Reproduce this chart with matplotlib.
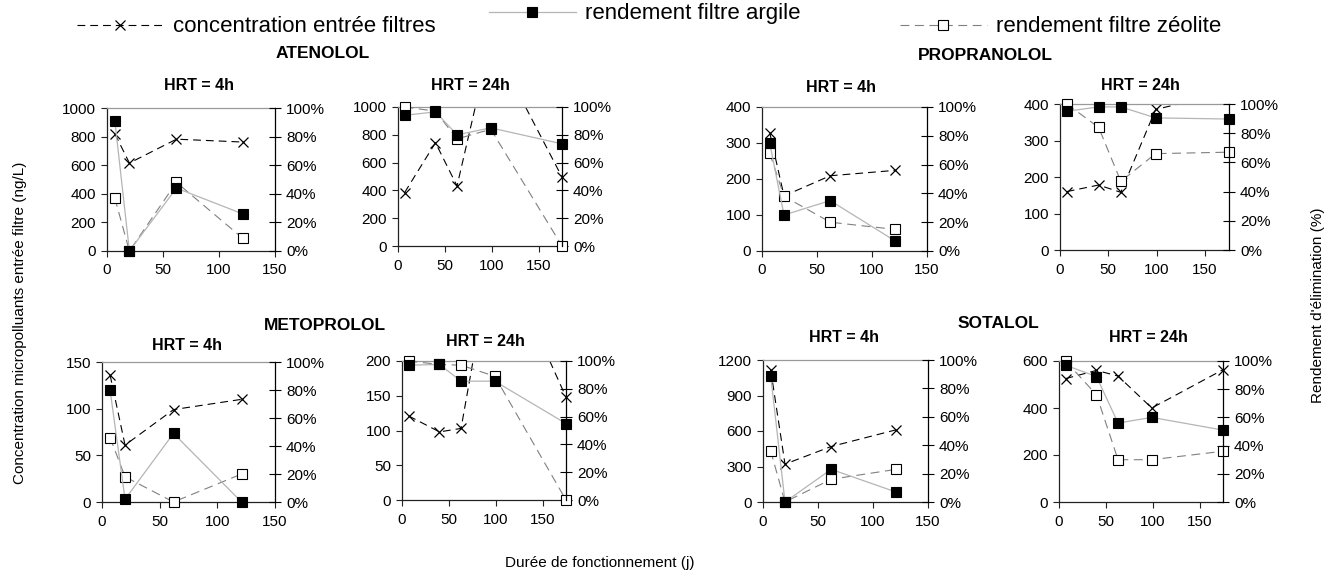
import matplotlib
matplotlib.use('Agg')
import matplotlib.pyplot as plt
from matplotlib.ticker import PercentFormatter, MultipleLocator
import numpy as np

plt.rcParams['font.family'] = ['Liberation Sans', 'DejaVu Sans']

# ---------------- data ----------------
t_4h = [7, 20, 62, 121]
t_24h = [7, 40, 63, 99, 175]

aten_4h_conc = [820, 615, 782, 762]
aten_4h_arg = [0.91, 0.00, 0.44, 0.26]
aten_4h_zeo = [0.37, 0.00, 0.48, 0.09]
aten_24h_conc = [384, 743, 432, 1480, 496]
aten_24h_arg = [0.94, 0.965, 0.80, 0.85, 0.735]
aten_24h_zeo = [1.00, 0.97, 0.77, 0.84, 0.00]

prop_4h_conc = [329, 153, 209, 224]
prop_4h_arg = [0.75, 0.25, 0.35, 0.07]
prop_4h_zeo = [0.68, 0.38, 0.20, 0.15]
prop_24h_conc = [160, 178, 158, 385, 433]
prop_24h_arg = [0.95, 0.98, 0.98, 0.905, 0.897]
prop_24h_zeo = [1.00, 0.84, 0.47, 0.66, 0.67]

meto_4h_conc = [136, 61, 99, 110]
meto_4h_arg = [0.80, 0.02, 0.49, 0.00]
meto_4h_zeo = [0.46, 0.18, 0.00, 0.20]
meto_24h_conc = [121, 98, 103, 376, 148]
meto_24h_arg = [0.97, 0.975, 0.855, 0.855, 0.55]
meto_24h_zeo = [1.00, 0.975, 0.97, 0.89, 0.00]

sota_4h_conc = [1116, 320, 469, 610]
sota_4h_arg = [0.89, 0.00, 0.23, 0.07]
sota_4h_zeo = [0.36, 0.00, 0.16, 0.23]
sota_24h_conc = [525, 560, 536, 400, 563]
sota_24h_arg = [0.97, 0.89, 0.56, 0.60, 0.51]
sota_24h_zeo = [1.00, 0.76, 0.30, 0.30, 0.36]

legend_labels = ['concentration entrée filtres', 'rendement filtre argile',
                 'rendement filtre zéolite']
compounds = ['ATENOLOL', 'PROPRANOLOL', 'METOPROLOL', 'SOTALOL']

# ---------------- layout ----------------
W, H = 1333, 579
fig = plt.figure(figsize=(W / 100, H / 100), dpi=100)


def px_rect(L, T, R, B):
    return [L / W, 1 - B / H, (R - L) / W, (B - T) / H]


def ftext(x, y, s, **kw):
    return fig.text(x / W, 1 - y / H, s, **kw)


TICK_FS = 11


def draw(rect, t, conc, arg, zeo, ymax, ystep, xmax, title, title_xy):
    ax = fig.add_axes(rect)
    ax2 = ax.twinx()
    ax.set_xlim(0, xmax)
    ax.set_ylim(0, ymax)
    ax2.set_ylim(0, 1)

    t = np.asarray(t, float)
    conc = np.asarray(conc, float)
    arg = np.asarray(arg, float)
    zeo = np.asarray(zeo, float)

    # concentration (left axis)
    lc, = ax.plot(t, conc, color='black', lw=0.8, ls=(0, (7, 4.5)))
    inr = conc <= ymax
    mc, = ax.plot(t[inr], conc[inr], ls='none', marker='x', ms=7, mew=0.9,
                  color='black', clip_on=False)

    # rendements (right axis)
    lz, = ax2.plot(t, zeo, color='#808080', lw=0.8, ls=(0, (8, 5)))
    mz, = ax2.plot(t, zeo, ls='none', marker='s', ms=7, mfc='white',
                   mec='black', mew=0.8, clip_on=False)
    la, = ax2.plot(t, arg, color='#b5b5b5', lw=0.9, ls='-')
    ma, = ax2.plot(t, arg, ls='none', marker='s', ms=7, mfc='black',
                   mec='black', mew=0.8, clip_on=False)

    # spines
    ax.spines['top'].set_color('#999999')
    ax.spines['right'].set_visible(False)
    ax.spines['left'].set_color('#222222')
    ax.spines['bottom'].set_color('#222222')
    for s in ['top', 'left', 'bottom']:
        ax2.spines[s].set_visible(False)
    ax2.spines['right'].set_color('black')
    for s in ax.spines.values():
        s.set_linewidth(0.9)
    ax2.spines['right'].set_linewidth(0.9)

    ax.set_xticks([0, 50, 100, 150])
    ax.yaxis.set_major_locator(MultipleLocator(ystep))
    ax2.set_yticks(np.linspace(0, 1, 6))
    ax2.yaxis.set_major_formatter(PercentFormatter(1.0, decimals=0))

    ax.tick_params(axis='y', direction='out', length=4, width=0.8,
                   labelsize=TICK_FS, pad=4, color='#222222')
    ax.tick_params(axis='x', direction='out', length=4, width=0.8,
                   labelsize=TICK_FS, pad=5, color='#222222')
    ax2.tick_params(axis='y', direction='inout', length=8, width=0.8,
                    labelsize=TICK_FS, pad=4)

    ftext(title_xy[0], title_xy[1], title, ha='center', va='center',
          fontsize=11.5, fontweight='bold')
    return (lc, mc), (la, ma), (lz, mz)


h = draw(px_rect(107, 108, 275, 251), t_4h, aten_4h_conc, aten_4h_arg, aten_4h_zeo,
         1000, 200, 150, 'HRT = 4h', (199, 86))
draw(px_rect(398, 107, 562, 246), t_24h, aten_24h_conc, aten_24h_arg, aten_24h_zeo,
     1000, 200, 175, 'HRT = 24h', (470, 85))
draw(px_rect(762, 107, 927, 251), t_4h, prop_4h_conc, prop_4h_arg, prop_4h_zeo,
     400, 100, 150, 'HRT = 4h', (841, 88))
draw(px_rect(1060, 104, 1229, 250), t_24h, prop_24h_conc, prop_24h_arg, prop_24h_zeo,
     400, 100, 175, 'HRT = 24h', (1140, 86))
draw(px_rect(102, 362, 275, 502), t_4h, meto_4h_conc, meto_4h_arg, meto_4h_zeo,
     150, 50, 150, 'HRT = 4h', (187, 345))
draw(px_rect(402, 361, 566, 500), t_24h, meto_24h_conc, meto_24h_arg, meto_24h_zeo,
     200, 50, 175, 'HRT = 24h', (485, 341))
draw(px_rect(763, 360, 928, 502), t_4h, sota_4h_conc, sota_4h_arg, sota_4h_zeo,
     1200, 300, 150, 'HRT = 4h', (844, 338))
draw(px_rect(1059, 361, 1223, 502), t_24h, sota_24h_conc, sota_24h_arg, sota_24h_zeo,
     600, 200, 175, 'HRT = 24h', (1148, 337))

# compound titles
for name, xy in zip(compounds, [(323, 54), (985, 55), (325, 326), (998, 323)]):
    ftext(xy[0], xy[1], name, ha='center', va='center', fontsize=12.5,
          fontweight='bold')

# axis labels
ftext(20, 323, 'Concentration micropolluants entrée filtre (ng/L)', rotation=90,
      ha='center', va='center', fontsize=11)
ftext(1318, 305, "Rendement d'élimination (%)", rotation=90,
      ha='center', va='center', fontsize=11)
ftext(600, 563, 'Durée de fonctionnement (j)', ha='center', va='center', fontsize=11)

# legend (three separate entries)
for handle, label, (x, y) in zip(h, legend_labels, [(77, 27), (489, 14), (900, 27)]):
    fig.legend([handle], [label], loc='center left',
               bbox_to_anchor=(x / W, 1 - y / H), frameon=False, fontsize=16,
               handlelength=3.9, handletextpad=0.4, borderpad=0, borderaxespad=0)

fig.savefig('out.png', dpi=100)
